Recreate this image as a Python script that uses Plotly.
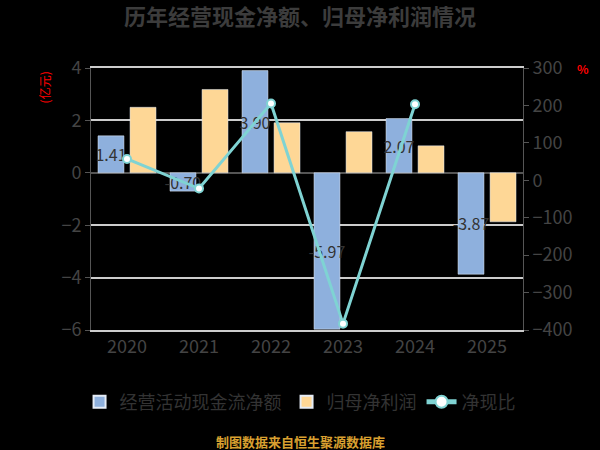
import plotly.graph_objects as go

years = ['2020', '2021', '2022', '2023', '2024', '2025']
cash_flow = [1.41, -0.70, 3.90, -5.97, 2.07, -3.87]      # 经营活动现金流净额 (亿元)
net_profit = [2.50, 3.18, 1.91, 1.57, 1.03, -1.87]      # 归母净利润 (亿元)
cash_ratio = [57, -22, 205, -383, 203, None]             # 净现比 (%)

fig = go.Figure()

fig.add_trace(go.Bar(x=years, y=cash_flow, name='经营活动现金流净额',
                     marker=dict(color='#8EB0DD'),
                     text=['%.2f' % v for v in cash_flow],
                     textposition='inside', insidetextanchor='middle',
                     constraintext='none', textangle=0,
                     textfont=dict(size=16, color='#333333')))
fig.add_trace(go.Bar(x=years, y=net_profit, name='归母净利润',
                     marker=dict(color='#FED796')))
fig.add_trace(go.Scatter(x=years, y=cash_ratio, name='净现比', yaxis='y2',
                         mode='lines+markers',
                         line=dict(color='#7FD3D3', width=3),
                         marker=dict(size=8, color='white',
                                     line=dict(color='#7FD3D3', width=2))))

font = 'Noto Sans CJK SC, Noto Sans, sans-serif'
axis_col = '#555555'
tick_font = dict(size=18, color='#444444')

# paper spans x 30..580 px, plot area 91..523 px
fig.update_layout(
    width=600, height=450,
    margin=dict(l=30, r=20, t=68, b=120),
    paper_bgcolor='black', plot_bgcolor='black',
    font=dict(family=font, color='#444444'),
    title=dict(text='<b>历年经营现金净额、归母净利润情况</b>', x=0.5, xanchor='center',
               y=0.962, yanchor='middle', font=dict(size=22, color='#3c3c3c')),
    barmode='group', bargap=0.11, bargroupgap=0.19,
    xaxis=dict(domain=[0.1109, 0.8964], showgrid=False, ticks='', showline=True,
               linecolor='#cccccc', linewidth=1.5, mirror=True, tickfont=tick_font),
    yaxis=dict(range=[-6, 4], dtick=2, showgrid=True, gridcolor='#cccccc', gridwidth=1.5,
               zeroline=True, zerolinecolor=axis_col, zerolinewidth=1.5,
               showline=True, linecolor=axis_col, ticks='outside',
               ticklen=5, tickcolor=axis_col, tickfont=tick_font),
    yaxis2=dict(range=[-400, 300], dtick=100, overlaying='y', side='right', anchor='x',
                showgrid=False, zeroline=False, showline=True, linecolor=axis_col,
                ticks='outside', ticklen=5, tickcolor=axis_col, tickfont=tick_font),
    legend=dict(orientation='h', x=0.491, xanchor='center', y=-0.275, yanchor='middle',
                font=dict(size=18, color='#333333'), itemsizing='constant'),
    annotations=[
        dict(text='(亿元)', xref='paper', yref='paper', x=0.0255, y=0.926,
             xanchor='center', yanchor='middle',
             textangle=-90, showarrow=False, font=dict(size=12, color='red')),
        dict(text='<b>%</b>', xref='paper', yref='paper', x=1.0055, y=1.0,
             xanchor='center', yanchor='middle',
             showarrow=False, font=dict(size=12, color='red')),
        dict(text='<b>制图数据来自恒生聚源数据库</b>', xref='paper', yref='paper',
             x=0.491, y=-0.427, xanchor='center', yanchor='middle', showarrow=False,
             font=dict(size=13, color='#D9A030')),
    ],
)

fig.write_html('out.html', config={'displayModeBar': False},
               post_script="document.body.style.margin='0';"
                           "document.body.style.background='black';")
